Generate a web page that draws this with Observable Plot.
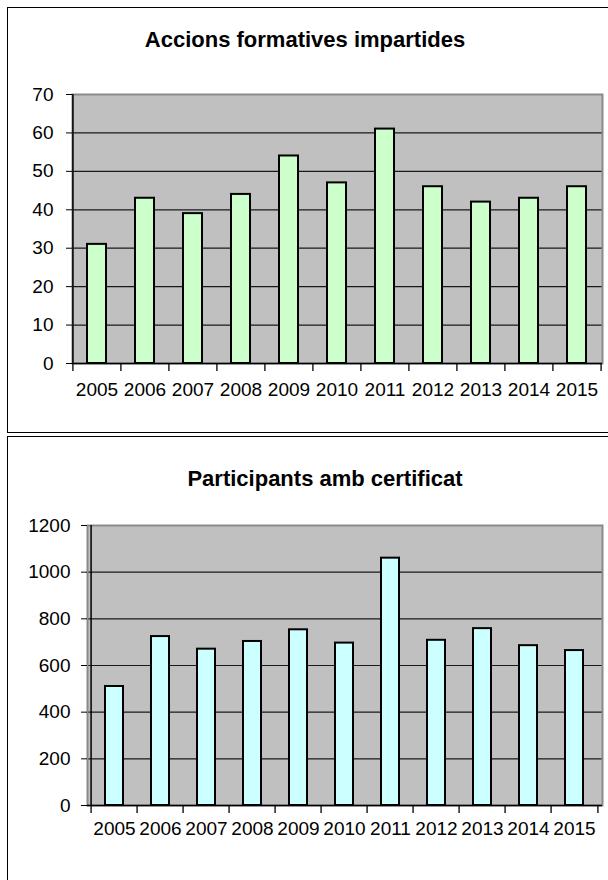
<!DOCTYPE html>
<html>
<head>
<meta charset="utf-8">
<script src="https://cdn.jsdelivr.net/npm/d3@7"></script>
<script src="https://cdn.jsdelivr.net/npm/@observablehq/plot@0.6"></script>
<style>
  html, body { margin: 0; padding: 0; background: #fff; }
  body { width: 608px; height: 880px; overflow: hidden; position: relative; }
  .panel { position: absolute; box-sizing: border-box; border-top: 1.3px solid #000; border-left: 1.3px solid #000; border-bottom: 1.3px solid #000; border-right: 0; background: #fff; }
  .title { position: absolute; width: 440px; text-align: center; font-family: 'Liberation Sans', Arial, sans-serif; font-weight: bold; font-size: 22px; line-height: 22px; color: #000; white-space: nowrap; }
  .chart { position: absolute; left: 0; }
</style>
</head>
<body>
<div class="panel" style="left:7px; top:7px; width:660px; height:426px;"></div>
<div class="panel" style="left:7px; top:436px; width:660px; height:500px;"></div>
<div class="title" style="left:85px; top:29px;">Accions formatives impartides</div>
<div class="title" style="left:105px; top:468px;">Participants amb certificat</div>
<div id="c1" class="chart" style="top:0px;"></div>
<div id="c2" class="chart" style="top:440px;"></div>
<script>
const years = ["2005","2006","2007","2008","2009","2010","2011","2012","2013","2014","2015"];
const accions = [31, 43, 39, 44, 54, 47, 61, 46, 42, 43, 46];
const participants = [510, 724, 670, 703, 753, 696, 1060, 708, 758, 685, 664];
const yTicksTop = [0, 10, 20, 30, 40, 50, 60, 70];
const yTicksBottom = [0, 200, 400, 600, 800, 1000, 1200];

function chart({values, fill, ticks, width, height, ml, mr, mt, mb, padY, padX}) {
  const data = years.map((year, i) => ({year, value: values[i]}));
  const step = (width - ml - mr) / years.length;
  return Plot.plot({
    width, height,
    marginLeft: ml, marginRight: mr, marginTop: mt, marginBottom: mb,
    style: {fontFamily: "'Liberation Sans', Arial, sans-serif", fontSize: "19px", color: "#000", background: "transparent", overflow: "visible"},
    x: {domain: years, paddingInner: 0.6, paddingOuter: 0.3, label: null},
    y: {domain: [ticks[0], ticks[ticks.length - 1]], label: null},
    marks: [
      Plot.frame({fill: "#c0c0c0", stroke: null}),
      Plot.gridY(ticks, {stroke: "#1a1a1a", strokeOpacity: 1, strokeWidth: 1.2}),
      Plot.frame({stroke: "#8a8a8a", strokeWidth: 2}),
      Plot.barY(data, {x: "year", y: "value", fill, stroke: "#000", strokeWidth: 2}),
      Plot.ruleY([0], {stroke: "#000", strokeWidth: 1.5}),
      Plot.ruleX([years[0]], {dx: -step / 2, stroke: "#000", strokeWidth: 1.5}),
      Plot.ruleX(years, {dx: -step / 2, y1: 0, y2: 0, insetBottom: -8, stroke: "#000", strokeWidth: 1.3}),
      Plot.ruleX([years[years.length - 1]], {dx: step / 2, y1: 0, y2: 0, insetBottom: -8, stroke: "#000", strokeWidth: 1.3}),
      Plot.axisY(ticks, {tickSize: 6, tickPadding: padY, stroke: "#000", label: null, tickFormat: d => String(d)}),
      Plot.axisX({tickSize: 0, tickPadding: padX, label: null})
    ]
  });
}

document.getElementById("c1").append(chart({
  values: accions, fill: "#ccffcc", ticks: yTicksTop,
  width: 608, height: 430, ml: 72, mr: 6, mt: 94, mb: 67, padY: 13, padX: 19
}));
document.getElementById("c2").append(chart({
  values: participants, fill: "#ccffff", ticks: yTicksBottom,
  width: 608, height: 440, ml: 87, mr: 6, mt: 85, mb: 75, padY: 11, padX: 16
}));
</script>
</body>
</html>
